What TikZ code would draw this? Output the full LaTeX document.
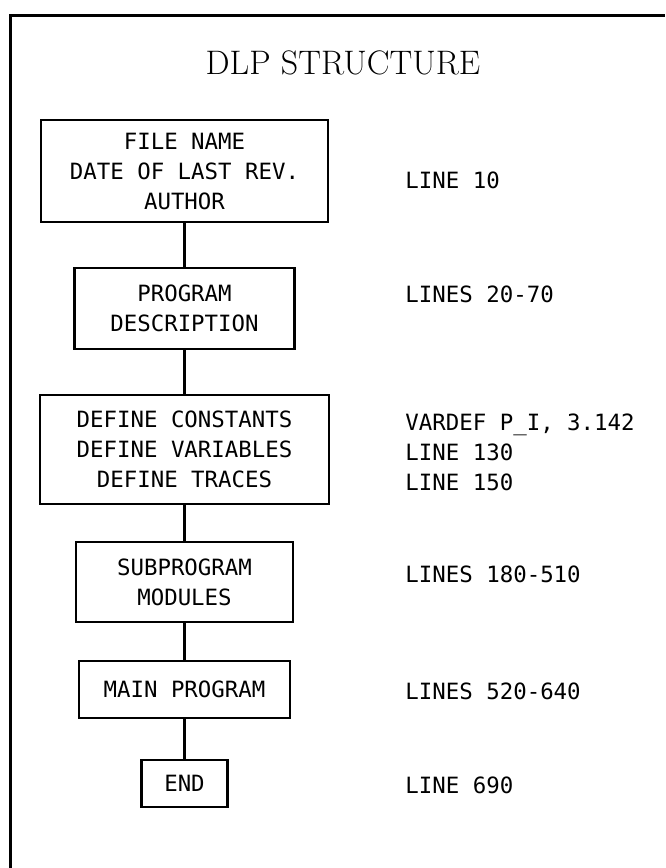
\documentclass[tikz,border=0pt]{standalone}
\usepackage{fontspec}
\newfontfamily\plotfont{DejaVu Sans Mono}
\usetikzlibrary{positioning}
\tikzstyle{block} = [rectangle, draw=black, line width=1.3pt, align=center,
inner sep=2pt, outer sep=0pt, font=\plotfont\fontsize{11.2}{15}\selectfont]
\tikzstyle{note} = [anchor=west, align=left, inner sep=0pt,
font=\plotfont\fontsize{11.2}{15}\selectfont]
\tikzstyle{link} = [line width=1.3pt, -]

\begin{document}
\begin{tikzpicture}[x=0.5pt, y=-0.5pt]
        \useasboundingbox (0,0) rectangle (665,868);
        % only the top and left edge of the frame are drawn
        \draw [line width=1.5pt] (10,868) -- (10,15) -- (665,15);

        \node (title) at (343,63) {\fontsize{17}{20}\selectfont DLP STRUCTURE};

        \node (head) [block, minimum width=143.5pt, minimum height=51pt] at (184.5,171) {FILE NAME\\ DATE OF LAST REV.\\ AUTHOR};
        \node (desc) [block, below=23pt of head, minimum width=110pt, minimum height=40.5pt] {PROGRAM\\ DESCRIPTION};
        \node (defs) [block, below=23pt of desc, minimum width=144.5pt, minimum height=54.5pt] {DEFINE CONSTANTS\\ DEFINE VARIABLES\\ DEFINE TRACES};
        \node (subs) [block, below=19pt of defs, minimum width=108.5pt, minimum height=40pt] {SUBPROGRAM\\ MODULES};
        \node (main) [block, below=19.5pt of subs, minimum width=105.5pt, minimum height=28.5pt] {MAIN PROGRAM};
        \node (END) [block, below=21pt of main, minimum width=43pt, minimum height=23.5pt] {END};

        % line numbers in the right column
        \node (L10) [note] at (405,180) {LINE 10};
        \node (L20) [note] at (405,294) {LINES 20-70};
        \node (L100) [note] at (405,452) {VARDEF P\_I, 3.142\\ LINE 130\\ LINE 150};
        \node (L180) [note] at (405,574) {LINES 180-510};
        \node (L520) [note] at (405,691) {LINES 520-640};
        \node (L690) [note] at (405,785) {LINE 690};

        \draw [link] (head) -- (desc);
        \draw [link] (desc) -- (defs);
        \draw [link] (defs) -- (subs);
        \draw [link] (subs) -- (main);
        \draw [link] (main) -- (END);

    \end{tikzpicture}
\end{document}
